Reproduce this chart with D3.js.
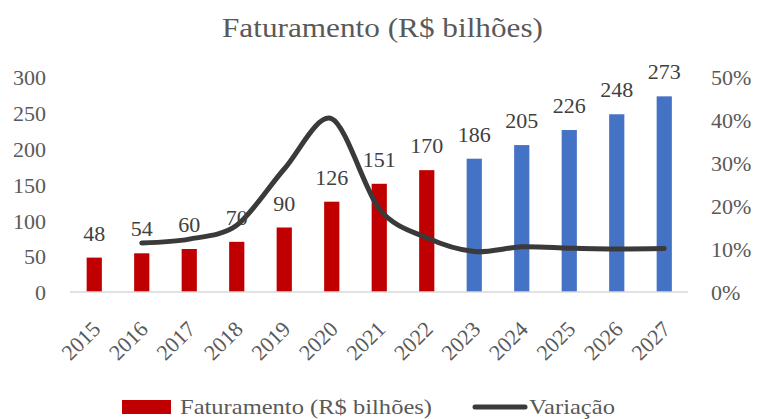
<!DOCTYPE html>
<html lang="pt">
<head>
<meta charset="UTF-8">
<title>Faturamento (R$ bilhões)</title>
<script src="https://d3js.org/d3.v7.min.js"></script>
<style>
  body { margin: 0; background: #fff; }
  text { font-family: "Palatino Linotype", "Book Antiqua", Palatino, "Liberation Serif", serif; }
</style>
</head>
<body>
<svg width="758" height="419"></svg>
<script>
const width = 758, height = 419;

// data
const years = ["2015","2016","2017","2018","2019","2020","2021","2022","2023","2024","2025","2026","2027"];
const revenue = [48, 54, 60, 70, 90, 126, 151, 170, 186, 205, 226, 248, 273];
const variation = [null, 0.114, 0.123, 0.155, 0.286, 0.403, 0.193, 0.126, 0.094, 0.105, 0.102, 0.100, 0.101];
const leftTicks = [0, 50, 100, 150, 200, 250, 300];
const rightTicks = [0, 0.1, 0.2, 0.3, 0.4, 0.5];
const forecastFrom = "2023";

const svg = d3.select("svg");

const x = d3.scaleBand().domain(years).range([70.5, 688]).paddingInner(0.68).paddingOuter(0.34);
const yL = d3.scaleLinear().domain([0, 300]).range([292, 77]);
const yR = d3.scaleLinear().domain([0, 0.5]).range([292, 77]);

// title
svg.append("text")
  .attr("x", 222).attr("y", 37)
  .attr("fill", "#595959")
  .attr("textLength", 321).attr("lengthAdjust", "spacingAndGlyphs")
  .style("font-size", "27px")
  .text("Faturamento (R$ bilhões)");

// bars
svg.selectAll(".bar")
  .data(years)
  .enter().append("rect")
  .attr("x", d => x(d))
  .attr("width", x.bandwidth())
  .attr("y", (d, i) => yL(revenue[i]))
  .attr("height", (d, i) => yL(0) - yL(revenue[i]))
  .attr("fill", d => d >= forecastFrom ? "#4472C4" : "#C00000");

// baseline
svg.append("line")
  .attr("x1", 70).attr("x2", 688)
  .attr("y1", yL(0)).attr("y2", yL(0))
  .attr("stroke", "#d9d9d9").attr("stroke-width", 1.5);

// left axis
const axL = svg.append("g").attr("transform", "translate(46,0)")
  .call(d3.axisLeft(yL).tickValues(leftTicks).tickSize(0).tickPadding(0));
axL.select(".domain").remove();
axL.selectAll("text").attr("fill", "#595959").style("font-size", "22px")
  .attr("dy", "0.35em").attr("font-family", null);

// right axis
const axR = svg.append("g").attr("transform", "translate(711,0)")
  .call(d3.axisRight(yR).tickValues(rightTicks).tickSize(0).tickPadding(0).tickFormat(d3.format(".0%")));
axR.select(".domain").remove();
axR.selectAll("text").attr("fill", "#595959").style("font-size", "22px")
  .attr("dy", "0.35em").attr("font-family", null);

// x labels
svg.selectAll(".xl")
  .data(years)
  .enter().append("text")
  .attr("transform", d => `translate(${x(d) + x.bandwidth() / 2 + 2},${yL(0) + 33}) rotate(-45)`)
  .attr("text-anchor", "end")
  .attr("dy", "0.35em")
  .attr("fill", "#595959")
  .style("font-size", "22px")
  .text(d => d);

// line
const pts = years.map((d, i) => ({ x: x(d) + x.bandwidth() / 2, v: variation[i] })).filter(p => p.v != null);
const line = d3.line().x(p => p.x).y(p => yR(p.v)).curve(d3.curveCardinal.tension(0.1));
svg.append("path")
  .datum(pts)
  .attr("d", line)
  .attr("fill", "none")
  .attr("stroke", "#3a3a3a")
  .attr("stroke-width", 5)
  .attr("stroke-linecap", "round")
  .attr("stroke-linejoin", "round");

// data labels
svg.selectAll(".dl")
  .data(years)
  .enter().append("text")
  .attr("x", d => x(d) + x.bandwidth() / 2)
  .attr("y", (d, i) => yL(revenue[i]) - 17)
  .attr("text-anchor", "middle")
  .attr("fill", "#404040")
  .style("font-size", "22px")
  .text((d, i) => revenue[i]);

// legend
const lg = svg.append("g");
lg.append("rect").attr("x", 122).attr("y", 400).attr("width", 49).attr("height", 14).attr("fill", "#C00000");
lg.append("text").attr("x", 180).attr("y", 414).attr("fill", "#595959").style("font-size", "22px")
  .attr("textLength", 252).attr("lengthAdjust", "spacingAndGlyphs")
  .text("Faturamento (R$ bilhões)");
lg.append("line").attr("x1", 475).attr("x2", 525).attr("y1", 407).attr("y2", 407)
  .attr("stroke", "#3a3a3a").attr("stroke-width", 5).attr("stroke-linecap", "round");
lg.append("text").attr("x", 529).attr("y", 414).attr("fill", "#595959").style("font-size", "22px")
  .attr("textLength", 86).attr("lengthAdjust", "spacingAndGlyphs")
  .text("Variação");
</script>
</body>
</html>
